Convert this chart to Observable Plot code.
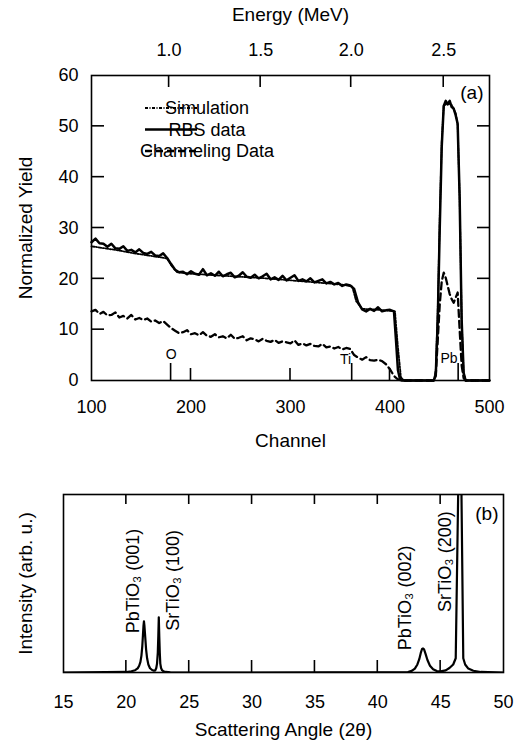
<!DOCTYPE html>
<html><head><meta charset="utf-8">
<script src="https://cdn.jsdelivr.net/npm/d3@7"></script>
<script src="https://cdn.jsdelivr.net/npm/@observablehq/plot@0.6"></script>
<style>
body{margin:0;background:#fff;}
#wrap{width:520px;font-family:"Liberation Sans",Arial,Helvetica,sans-serif;color:#000;}
#wrap > svg{display:block;}
</style></head><body><div id="wrap"></div>
<script>
// ---------- Panel (a): RBS ----------
const rbsChannel = [100,104,108,112,116,120,124,128,132,136,140,144,148,152,156,160,164,168,172,176,180,184,188,192,196,200,204,208,212,216,220,224,228,232,236,240,244,248,252,256,260,264,268,272,276,280,284,288,292,296,300,304,308,312,316,320,324,328,332,336,340,344,348,352,356,360,364,368,372,376,380,384,388,392,396,400,404,406,408,410,412,444,446,448,450,452,454,456,458,460,462,464,466,468,470,472,474,476,500];
const rbsYield = [27.2,27.9,27.0,26.9,26.3,26.9,26.0,25.9,26.4,25.5,25.7,25.2,25.8,25.1,24.9,25.3,24.6,24.5,25.0,24.1,22.9,21.8,21.3,21.4,20.9,21.5,21.0,20.8,21.9,20.7,21.1,20.6,21.4,20.5,20.9,21.2,20.3,20.6,21.3,20.4,20.2,20.8,20.1,20.5,21.0,19.9,20.3,19.8,20.6,19.7,20.2,20.7,19.6,19.9,19.5,20.1,19.3,19.6,19.9,19.1,19.4,18.9,19.2,18.6,18.9,18.7,18.0,15.3,14.0,13.6,14.1,13.7,14.4,13.6,13.8,13.9,13.6,8.0,2.0,0.3,0,0,1.0,12,30,46,54,55,54.3,55,53.8,53.5,52.2,50.5,36,12,1.5,0,0];

const chanChannel = [100,104,108,112,116,120,124,128,132,136,140,144,148,152,156,160,164,168,172,176,180,184,188,192,196,200,204,208,212,216,220,224,228,232,236,240,244,248,252,256,260,264,268,272,276,280,284,288,292,296,300,304,308,312,316,320,324,328,332,336,340,344,348,352,356,360,364,368,372,376,380,384,388,392,396,400,404,408,412,444,446,448,450,452,454,456,458,460,462,464,466,468,470,472,474,476,500];
const chanYield = [13.6,13.9,13.1,13.5,12.8,12.9,13.4,12.4,12.7,12.2,12.9,12.0,12.3,11.9,12.2,11.6,11.8,11.3,11.7,11.0,10.3,9.8,9.3,9.5,9.9,9.1,9.3,8.9,9.5,8.8,8.6,9.1,8.5,8.7,8.3,9.0,8.2,8.4,8.7,7.9,8.3,8.1,7.7,8.2,7.8,7.6,8.0,7.4,7.7,7.5,7.3,7.9,7.0,7.3,6.9,7.2,6.8,6.7,7.2,6.5,6.7,6.3,6.6,6.1,6.4,6.2,5.0,4.5,4.1,4.6,4.0,3.9,4.1,3.8,3.2,2.2,0.9,0.2,0,0,1.0,8,15,19.5,21.2,20.2,18.6,17.0,16.0,15.3,16.3,17.3,10,3,0.5,0,0];

const simChannel = [100,110,120,130,140,150,160,170,176,180,186,200,225,250,275,300,325,350,362,366,372,390,405,408,411,414,444,446,448,450,452,454,458,462,466,468,470,472,474,476,500];
const simYield = [26.4,26.1,25.8,25.5,25.1,24.8,24.5,24.2,24.0,22.7,21.3,21.0,20.7,20.4,20.1,19.7,19.3,18.9,18.5,15.6,14.1,13.9,13.6,6.5,0.6,0,0,2,14,32,47,54,54.6,54.2,52.6,50.2,36,12,1.5,0,0];

const channelTicks = [100,200,300,400,500];
const channelInnerTicks = [200,300,400];
const yieldTicks = [0,10,20,30,40,50,60];
const yieldInnerTicks = [10,20,30,40,50];
const energyLabels = ["1.0","1.5","2.0","2.5"];
const energyChannels = [178,270,361,454];
const elementNames = ["O","Ti","Pb"];
const elementChannels = [180,362,469];
const elementLabelYield = [5.2,4.2,4.4];
const seriesNames = ["Simulation","RBS data","Channeling Data"];

// ---------- Panel (b): XRD ----------
const xrdAngle = [15,20.0,20.4,20.7,20.9,21.02,21.12,21.2,21.27,21.32,21.36,21.4,21.44,21.5,21.57,21.65,21.75,21.88,22.05,22.2,22.3,22.38,22.44,22.5,22.54,22.58,22.62,22.66,22.7,22.76,22.84,22.95,23.15,23.5,30,42.4,42.7,42.95,43.15,43.3,43.42,43.52,43.6,43.68,43.8,43.95,44.15,44.4,44.7,45.0,45.4,45.7,46.0,46.2,46.5,46.58,46.8,46.95,47.2,47.6,48.2,50];
const xrdIntensity = [0,0.3,0.7,1.3,2.3,3.8,6,9.5,15,21,26,28.8,26,20,13,8,4.5,2.4,1.4,1.0,1.2,2.5,5,11,20,31,20,11,5,2.5,1.3,0.7,0.3,0.1,0,0.2,0.9,2.2,4.5,7.5,11,13.2,13.5,13,10.5,7,3.8,1.8,0.8,0.6,1.2,2.5,4.5,8,150,150,8,4.5,2.2,1,0.3,0];
const angleTicks = [15,20,25,30,35,40,45,50];
const angleInnerTicks = [20,25,30,35,40,45];
const peakNames = ["PbTiO\u2083 (001)","SrTiO\u2083 (100)","PbTiO\u2083 (002)","SrTiO\u2083 (200)"];
const peakLabelAngle = [20.55,23.75,42.2,45.4];
const peakLabelIntensity = [22,23.5,12.5,34];

const FONT = "'Liberation Sans', Arial, Helvetica, sans-serif";
const zip = (xs, ys) => xs.map((x, i) => ({x, y: ys[i]}));
const rbs = zip(rbsChannel, rbsYield);
const chan = zip(chanChannel, chanYield);
const sim = zip(simChannel, simYield);
const elements = elementNames.map((n, i) => ({name: n, ch: elementChannels[i], ly: elementLabelYield[i]}));
const xrd = zip(xrdAngle, xrdIntensity);
const peaks = peakNames.map((n, i) => ({name: n, x: peakLabelAngle[i], y: peakLabelIntensity[i]}));

const A = {w: 520, h: 460, t: 75, b: 80, l: 91, r: 31};
const B = {w: 520, h: 281, t: 34, b: 69, l: 63, r: 17};

const plotA = Plot.plot({
  width: A.w, height: A.h,
  marginTop: A.t, marginBottom: A.b, marginLeft: A.l, marginRight: A.r,
  style: {fontFamily: FONT, fontSize: "18px", color: "#000", background: "#fff"},
  x: {domain: [100, 500]},
  y: {domain: [0, 60]},
  marks: [
    Plot.line(sim, {x: "x", y: "y", stroke: "#000", strokeWidth: 1.8, strokeDasharray: "3,1.5,1,1.5"}),
    Plot.line(chan, {x: "x", y: "y", stroke: "#000", strokeWidth: 2.3, strokeDasharray: "7,4"}),
    Plot.line(rbs, {x: "x", y: "y", stroke: "#000", strokeWidth: 2.5}),
    Plot.text(elements.filter(d => d.name === "O"), {x: "ch", y: "ly", text: "name", fontSize: 14, textAnchor: "middle"}),
    Plot.text(elements.filter(d => d.name !== "O"), {x: "ch", y: "ly", text: "name", fontSize: 14, textAnchor: "end", dx: -1}),
    Plot.frame({stroke: "#000", strokeWidth: 1.6}),
    Plot.axisX(channelTicks, {anchor: "bottom", tickSize: 0, tickPadding: 20, fontSize: 18, label: null}),
    Plot.axisX(energyChannels, {anchor: "top", tickSize: 0, tickPadding: 20, fontSize: 18, label: null,
      tickFormat: d => energyLabels[energyChannels.indexOf(d)]}),
    Plot.axisY(yieldTicks, {anchor: "left", tickSize: 0, tickPadding: 13, fontSize: 18, label: null}),
    Plot.text(["Channel"], {text: d => d, frameAnchor: "bottom", textAnchor: "middle", lineAnchor: "middle", dy: 60, fontSize: 19}),
    Plot.text(["Energy (MeV)"], {text: d => d, frameAnchor: "top", textAnchor: "middle", lineAnchor: "middle", dy: -61, fontSize: 19}),
    Plot.text(["Normalized Yield"], {text: d => d, frameAnchor: "left", textAnchor: "middle", lineAnchor: "middle", dx: -66, rotate: -90, fontSize: 19}),
    Plot.text(["(a)"], {text: d => d, frameAnchor: "top-right", textAnchor: "end", lineAnchor: "middle", dx: -6, dy: 17, fontSize: 19})
  ]
});

const plotB = Plot.plot({
  width: B.w, height: B.h,
  marginTop: B.t, marginBottom: B.b, marginLeft: B.l, marginRight: B.r,
  style: {fontFamily: FONT, fontSize: "18px", color: "#000", background: "#fff"},
  x: {domain: [15, 50]},
  y: {domain: [0, 100], axis: null},
  marks: [
    Plot.line(xrd, {x: "x", y: "y", stroke: "#000", strokeWidth: 2.2, clip: true}),
    Plot.text(peaks, {x: "x", y: "y", text: "name", rotate: -90, textAnchor: "start", lineAnchor: "middle", fontSize: 18}),
    Plot.frame({stroke: "#000", strokeWidth: 1.6}),
    Plot.axisX(angleTicks, {anchor: "bottom", tickSize: 0, tickPadding: 23, fontSize: 18, label: null}),
    Plot.text(["Scattering Angle (2\u03b8)"], {text: d => d, frameAnchor: "bottom", textAnchor: "middle", lineAnchor: "middle", dy: 57, fontSize: 19}),
    Plot.text(["Intensity (arb. u.)"], {text: d => d, frameAnchor: "left", textAnchor: "middle", lineAnchor: "middle", dx: -38, rotate: -90, fontSize: 19}),
    Plot.text(["(b)"], {text: d => d, frameAnchor: "top-right", textAnchor: "end", lineAnchor: "middle", dx: -5, dy: 19, fontSize: 19})
  ]
});

const wrap = document.getElementById("wrap");
wrap.appendChild(plotA);
wrap.appendChild(plotB);

// Inward frame ticks and element markers, placed with each plot's own scales
function addTicks(svg, p, specs) {
  const sx = svg.scale("x"), sy = svg.scale("y");
  const x0 = p.l, x1 = p.w - p.r, y0 = p.t, y1 = p.h - p.b;
  const g = d3.select(svg).append("g").attr("stroke", "#000").attr("stroke-width", 1.6).attr("fill", "none");
  specs.forEach(({vals, side, len}) => {
    vals.forEach(v => {
      let a;
      if (side === "bottom") { const x = sx.apply(v); a = [x, y1, x, y1 - len]; }
      if (side === "top") { const x = sx.apply(v); a = [x, y0, x, y0 + len]; }
      if (side === "left") { const y = sy.apply(v); a = [x0, y, x0 + len, y]; }
      if (side === "right") { const y = sy.apply(v); a = [x1, y, x1 - len, y]; }
      g.append("path").attr("d", `M${a[0]},${a[1]}L${a[2]},${a[3]}`);
    });
  });
}
addTicks(plotA, A, [
  {vals: channelInnerTicks, side: "bottom", len: 12},
  {vals: energyChannels, side: "top", len: 12},
  {vals: yieldInnerTicks, side: "left", len: 13},
  {vals: yieldInnerTicks, side: "right", len: 12},
  {vals: elementChannels, side: "bottom", len: 17}
]);
addTicks(plotB, B, [
  {vals: angleInnerTicks, side: "bottom", len: 12},
  {vals: angleInnerTicks, side: "top", len: 10}
]);

// Legend for panel (a), inside the panel's own SVG
const leg = d3.select(plotA).append("g").attr("font-family", FONT);
const legStyles = [
  {w: 1.8, dash: "3,1.5,1,1.5"},
  {w: 2.6, dash: null},
  {w: 2.3, dash: "7,4"}
];
seriesNames.forEach((name, i) => {
  const yy = 108 + i * 21.5;
  leg.append("path").attr("d", `M145,${yy}L197,${yy}`)
    .attr("stroke", "#000").attr("fill", "none").attr("stroke-width", legStyles[i].w)
    .attr("stroke-dasharray", legStyles[i].dash);
  leg.append("text").attr("x", 207).attr("y", yy).attr("dy", "0.35em")
    .attr("font-size", 18).attr("fill", "#000").text(name);
});
</script>
</body></html>
